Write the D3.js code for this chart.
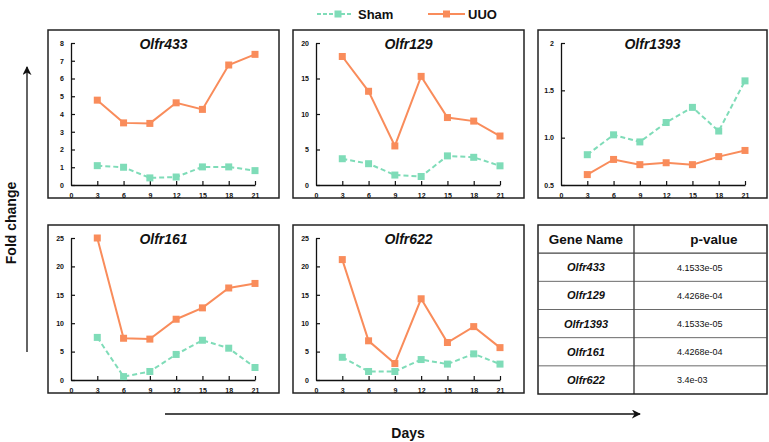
<!DOCTYPE html>
<html lang="en">
<head>
  <meta charset="UTF-8" />
  <title>Olfr fold change</title>
  <script src="https://d3js.org/d3.v7.min.js"></script>
  <style>
    body { margin: 0; padding: 0; background: #fff; font-family: 'Liberation Sans', Arial, sans-serif; }
    svg text { font-family: 'Liberation Sans', Arial, sans-serif; }
    .tick text { font-size: 7px; font-weight: bold; fill: #111; }
  </style>
</head>
<body>
  <div id="chart"></div>
  <script>
    // Data
    const days = [3, 6, 9, 12, 15, 18, 21];
    const xTicks = [0, 3, 6, 9, 12, 15, 18, 21];
    const genes = ["Olfr433", "Olfr129", "Olfr1393", "Olfr161", "Olfr622"];

    const shamOlfr433 = [1.09, 1.0, 0.4, 0.45, 1.02, 1.02, 0.81];
    const uuoOlfr433 = [4.78, 3.5, 3.47, 4.63, 4.26, 6.76, 7.36];
    const shamOlfr129 = [3.7, 3.0, 1.4, 1.2, 4.1, 3.9, 2.7];
    const uuoOlfr129 = [18.1, 13.2, 5.5, 15.3, 9.5, 9.0, 6.9];
    const shamOlfr1393 = [0.82, 1.03, 0.955, 1.16, 1.32, 1.07, 1.6];
    const uuoOlfr1393 = [0.61, 0.77, 0.715, 0.735, 0.715, 0.8, 0.865];
    const shamOlfr161 = [7.5, 0.6, 1.5, 4.5, 7.0, 5.6, 2.2];
    const uuoOlfr161 = [25, 7.35, 7.2, 10.7, 12.7, 16.2, 17.0];
    const shamOlfr622 = [4.0, 1.5, 1.5, 3.6, 2.8, 4.6, 2.8];
    const uuoOlfr622 = [21.2, 6.9, 2.9, 14.3, 6.6, 9.4, 5.7];

    const yDomains = [[0, 8], [0, 20], [0.5, 2], [0, 25], [0, 25]];
    const yTicks = [
      [0, 1, 2, 3, 4, 5, 6, 7, 8],
      [0, 5, 10, 15, 20],
      [0.5, 1.0, 1.5, 2],
      [0, 5, 10, 15, 20, 25],
      [0, 5, 10, 15, 20, 25]
    ];
    const yTickFormats = [d3.format("d"), d3.format("d"), d => d === 2 ? "2" : d3.format(".1f")(d), d3.format("d"), d3.format("d")];

    const pValues = ["4.1533e-05", "4.4268e-04", "4.1533e-05", "4.4268e-04", "3.4e-03"];

    const shamSeries = [shamOlfr433, shamOlfr129, shamOlfr1393, shamOlfr161, shamOlfr622];
    const uuoSeries = [uuoOlfr433, uuoOlfr129, uuoOlfr1393, uuoOlfr161, uuoOlfr622];

    const shamColor = "#7fdcb8";
    const uuoColor = "#f98c5b";

    const width = 769, height = 442;
    const svg = d3.select("#chart").append("svg")
      .attr("width", width).attr("height", height);

    const defs = svg.append("defs");
    defs.append("marker")
      .attr("id", "arrow")
      .attr("viewBox", "0 0 10 10")
      .attr("refX", 9).attr("refY", 5)
      .attr("markerWidth", 9).attr("markerHeight", 9)
      .attr("markerUnits", "userSpaceOnUse")
      .attr("orient", "auto")
      .append("path").attr("d", "M0,0 L10,5 L0,10 L3,5 Z").attr("fill", "#111");

    // panel boxes
    const colX = [48, 293, 538];
    const rowY = [30, 225];
    const boxW = 231, boxH = 168;
    const panelPos = [[0, 0], [1, 0], [2, 0], [0, 1], [1, 1]];

    const line = (x, y) => d3.line().x((d, i) => x(days[i])).y(d => y(d));

    genes.forEach((gene, gi) => {
      const bx = colX[panelPos[gi][0]], by = rowY[panelPos[gi][1]];
      const w = panelPos[gi][0] === 2 ? 229 : boxW;
      const g = svg.append("g").attr("transform", `translate(${bx},${by})`);

      g.append("rect")
        .attr("width", w).attr("height", boxH)
        .attr("fill", "#fff").attr("stroke", "#222").attr("stroke-width", 1.5);

      const x = d3.scaleLinear().domain([0, 21]).range([23, 207]);
      const y = d3.scaleLinear().domain(yDomains[gi]).range([155, 13]);

      const yAxis = g.append("g").attr("transform", "translate(23,0)")
        .call(d3.axisLeft(y).tickValues(yTicks[gi]).tickFormat(yTickFormats[gi]).tickSizeInner(-4).tickSizeOuter(0).tickPadding(9));
      const xAxis = g.append("g").attr("transform", "translate(0,155)")
        .call(d3.axisBottom(x).tickValues(xTicks).tickSizeInner(-4).tickSizeOuter(0).tickPadding(8));
      [yAxis, xAxis].forEach(a => {
        a.select(".domain").attr("stroke", "#111").attr("stroke-width", 1.3);
        a.selectAll(".tick line").attr("stroke", "#111").attr("stroke-width", 1.2);
      });
      xAxis.selectAll(".tick").filter(d => d === 0).select("line").remove();
      yAxis.selectAll(".tick text").attr("x", -7);

      // Sham
      g.append("path").datum(shamSeries[gi])
        .attr("d", line(x, y)).attr("fill", "none")
        .attr("stroke", shamColor).attr("stroke-width", 2).attr("stroke-dasharray", "5,3");
      g.selectAll(".msham").data(shamSeries[gi]).enter().append("rect")
        .attr("x", (d, i) => x(days[i]) - 3.5).attr("y", d => y(d) - 3.5)
        .attr("width", 7).attr("height", 7).attr("fill", shamColor);

      // UUO
      g.append("path").datum(uuoSeries[gi])
        .attr("d", line(x, y)).attr("fill", "none")
        .attr("stroke", uuoColor).attr("stroke-width", 2);
      g.selectAll(".muuo").data(uuoSeries[gi]).enter().append("rect")
        .attr("x", (d, i) => x(days[i]) - 3.5).attr("y", d => y(d) - 3.5)
        .attr("width", 7).attr("height", 7).attr("fill", uuoColor);

      g.append("text")
        .attr("x", w / 2).attr("y", 19)
        .attr("text-anchor", "middle")
        .attr("font-size", 14).attr("font-weight", "bold").attr("font-style", "italic")
        .attr("fill", "#111")
        .text(gene);
    });

    // table
    const tx = 538, ty = 225, tw = 229, th = 169, colDiv = 96;
    const rowH = th / 6;
    const tg = svg.append("g").attr("transform", `translate(${tx},${ty})`);
    tg.append("rect").attr("width", tw).attr("height", th)
      .attr("fill", "#fff").attr("stroke", "#222").attr("stroke-width", 1.5);
    tg.append("line").attr("x1", colDiv).attr("x2", colDiv).attr("y1", 0).attr("y2", th)
      .attr("stroke", "#222").attr("stroke-width", 1.2);
    d3.range(1, 6).forEach(r => {
      tg.append("line").attr("x1", 0).attr("x2", tw).attr("y1", r * rowH).attr("y2", r * rowH)
        .attr("stroke", "#444").attr("stroke-width", r === 1 ? 1.2 : 0.8);
    });
    tg.append("text").attr("x", colDiv / 2).attr("y", rowH / 2 + 5)
      .attr("text-anchor", "middle").attr("font-size", 13.5).attr("font-weight", "bold").attr("fill", "#111")
      .text("Gene Name");
    tg.append("text").attr("x", 176).attr("y", rowH / 2 + 5)
      .attr("text-anchor", "middle").attr("font-size", 13.5).attr("font-weight", "bold").attr("fill", "#111")
      .text("p-value");
    genes.forEach((gene, i) => {
      const cy = (i + 1.5) * rowH;
      tg.append("text").attr("x", colDiv / 2).attr("y", cy + 4)
        .attr("text-anchor", "middle").attr("font-size", 11).attr("font-weight", "bold").attr("font-style", "italic")
        .attr("fill", "#111").text(gene);
      tg.append("text").attr("x", 139).attr("y", cy + 3.5)
        .attr("font-size", 9).attr("font-weight", 500).attr("fill", "#111").text(pValues[i]);
    });

    // legend
    const lg = svg.append("g").attr("transform", "translate(0,14)");
    lg.append("line").attr("x1", 317).attr("x2", 353).attr("y1", 0).attr("y2", 0)
      .attr("stroke", shamColor).attr("stroke-width", 2).attr("stroke-dasharray", "4,2");
    lg.append("rect").attr("x", 334.5).attr("y", -3.5).attr("width", 7).attr("height", 7).attr("fill", shamColor);
    lg.append("text").attr("x", 358).attr("y", 5).attr("font-size", 13).attr("font-weight", "bold").attr("fill", "#111").text("Sham");
    lg.append("line").attr("x1", 428).attr("x2", 465).attr("y1", 0).attr("y2", 0)
      .attr("stroke", uuoColor).attr("stroke-width", 2);
    lg.append("rect").attr("x", 443).attr("y", -3.5).attr("width", 7).attr("height", 7).attr("fill", uuoColor);
    lg.append("text").attr("x", 468).attr("y", 5).attr("font-size", 13).attr("font-weight", "bold").attr("fill", "#111").text("UUO");

    // axis arrows
    svg.append("line").attr("x1", 27).attr("x2", 27).attr("y1", 352).attr("y2", 67)
      .attr("stroke", "#111").attr("stroke-width", 1.3).attr("marker-end", "url(#arrow)");
    svg.append("text").attr("transform", "translate(16,223) rotate(-90)")
      .attr("text-anchor", "middle").attr("font-size", 14).attr("font-weight", "bold").attr("fill", "#111")
      .text("Fold change");
    svg.append("line").attr("x1", 165).attr("x2", 640).attr("y1", 414).attr("y2", 414)
      .attr("stroke", "#111").attr("stroke-width", 1.3).attr("marker-end", "url(#arrow)");
    svg.append("text").attr("x", 408).attr("y", 438)
      .attr("text-anchor", "middle").attr("font-size", 14).attr("font-weight", "bold").attr("fill", "#111")
      .text("Days");
  </script>
</body>
</html>
